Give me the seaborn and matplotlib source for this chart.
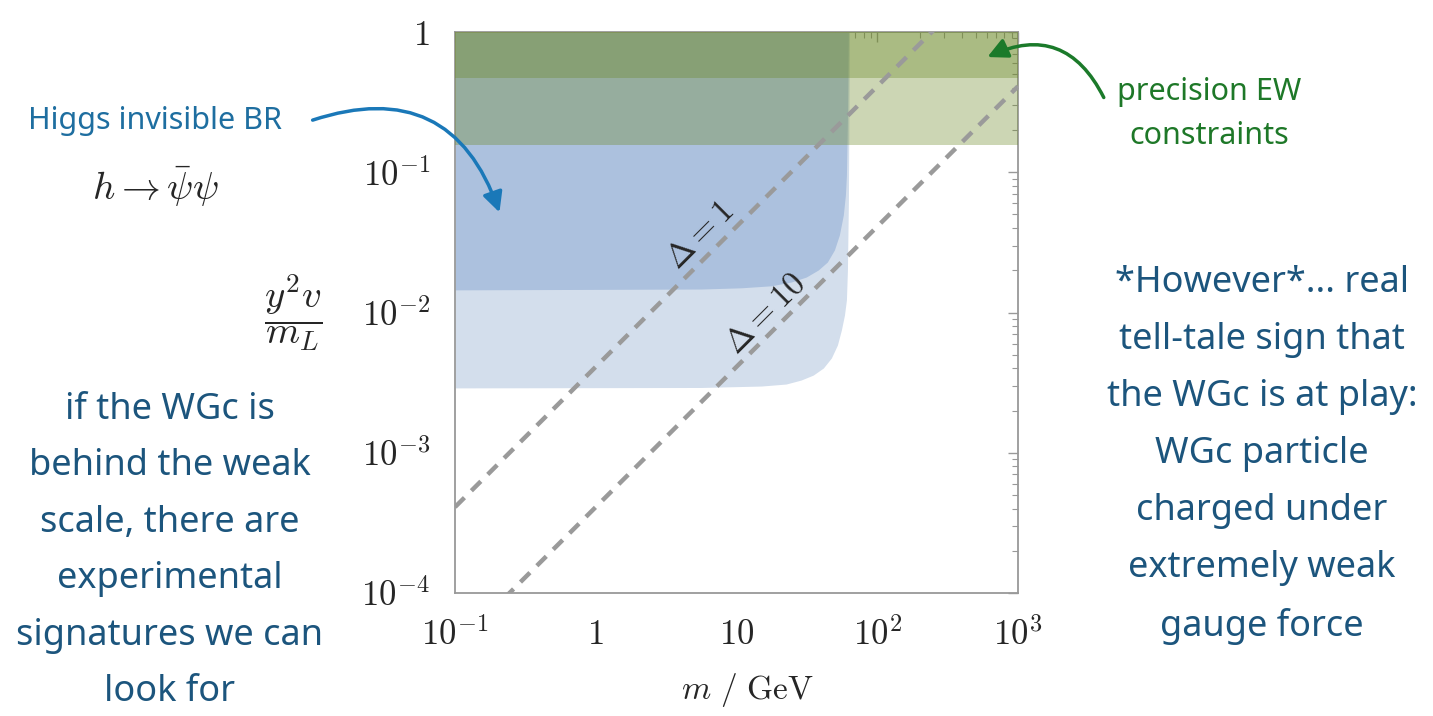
import numpy as np
import pandas as pd
import matplotlib.pyplot as plt
import seaborn as sns

# Higgs invisible BR bounds (boundary), m in GeV
mass_dark = [0.1, 5.6, 10.8, 17.6, 24.5, 31.3, 38.1, 44.2, 49.6, 53.8,
             57.4, 59.4, 60.4, 61.4, 62.4]
ylow_dark = [0.0145, 0.0147, 0.0150, 0.0155, 0.0165, 0.0179, 0.0201, 0.0229,
             0.0279, 0.0357, 0.0496, 0.0689, 0.0956, 0.236, 1.0]
mass_light = [0.1, 5.6, 15.0, 22.5, 28.8, 35.1, 41.4, 47.2, 52.1, 55.6,
              58.5, 60.4, 61.4, 62.4, 63.4]
ylow_light = [0.0029, 0.00292, 0.00299, 0.00309, 0.0033, 0.00358, 0.00402,
              0.00474, 0.00586, 0.0075, 0.0096, 0.0123, 0.0201, 0.0634, 1.0]

# precision EW bands (lower edges)
ew_range = [0.1, 1000]
ew_low = [0.156, 0.47]

# Delta = 1 and Delta = 10 lines
delta_mass = [0.1, 1000]
delta1_y = [4.1e-4, 4.1]
delta10_y = [4.1e-5, 0.41]

xticks = [0.1, 1, 10, 100, 1000]
xlabels = ['$10^{-1}$', '$1$', '$10$', '$10^{2}$', '$10^{3}$']
yticks = [1e-4, 1e-3, 1e-2, 1e-1, 1]
ylabels = ['$10^{-4}$', '$10^{-3}$', '$10^{-2}$', '$10^{-1}$', '$1$']

sns.set_theme(style='white')
plt.rcParams['mathtext.fontset'] = 'cm'
plt.rcParams['font.family'] = ['Noto Sans', 'DejaVu Sans']

fig = plt.figure(figsize=(14.33, 7.16), dpi=100)
ax = fig.add_axes([455 / 1433, 123 / 716, 563 / 1433, 561 / 716])
ax.set_xscale('log')
ax.set_yscale('log')

# Higgs invisible regions
ax.fill_between(mass_light, ylow_light, 1, color='#d3deec', lw=0, zorder=1)
ax.fill_between(mass_dark, ylow_dark, 1, color='#acc1de', lw=0, zorder=2)

# EW constraint bands
for low in ew_low:
    ax.fill_between(ew_range, low, 1, color='#6d8a29', alpha=0.35, lw=0, zorder=3)

# Delta lines
df = pd.DataFrame({'m': delta_mass * 2,
                   'y': delta1_y + delta10_y,
                   'delta': ['1'] * 2 + ['10'] * 2})
for d in ['1', '10']:
    sns.lineplot(data=df[df['delta'] == d], x='m', y='y', ax=ax, color='#9a9a9a',
                 lw=3.2, linestyle=(0, (3.0, 2.2)), zorder=4)

ax.text(5.58, 0.0351, r'$\Delta = 1$', rotation=45, ha='center', va='center',
        fontsize=24, zorder=5)
ax.text(15.96, 0.00976, r'$\Delta = 10$', rotation=45, ha='center', va='center',
        fontsize=24, zorder=5)

ax.set_xlim(0.1, 1000)
ax.set_ylim(1e-4, 1)
ax.set_xticks(xticks)
ax.set_xticklabels(xlabels)
ax.set_yticks(yticks)
ax.set_yticklabels(ylabels)
ax.tick_params(which='both', direction='in', top=True, right=True, color='#999999',
               labelsize=25, pad=18)
ax.tick_params(which='major', length=7, width=1)
ax.tick_params(which='minor', length=4, width=0.8)
for s in ax.spines.values():
    s.set_color('#999999')
    s.set_linewidth(1.3)

ax.set_xlabel(r'$m\ /\ \mathrm{GeV}$', fontsize=24, va='center')
ax.xaxis.set_label_coords(0.52, -0.173)
ax.set_ylabel(r'$\dfrac{y^2 v}{m_L}$', fontsize=28, rotation=0, ha='center', va='center')
ax.yaxis.set_label_coords(-0.288, 0.5)

# annotations
fig.text(155 / 1433, 1 - 121 / 716, 'Higgs invisible BR', color='#1e6ea0',
         fontsize=22, ha='center', va='center')
fig.text(155 / 1433, 1 - 187 / 716, r'$h \rightarrow \bar{\psi}\psi$', fontsize=28,
         ha='center', va='center')
ax.annotate('', xy=(0.21, 0.0496), xytext=(310 / 1433, 1 - 121 / 716),
            textcoords='figure fraction', annotation_clip=False,
            arrowprops=dict(arrowstyle='-|>', color='#1a78b8', lw=2.5,
                            mutation_scale=30, connectionstyle='arc3,rad=-0.5'))

fig.text(1209 / 1433, 1 - 114 / 716, 'precision EW\nconstraints', color='#1e7828',
         fontsize=22, ha='center', va='center', linespacing=1.6)
ax.annotate('', xy=(582, 0.65), xytext=(1105 / 1433, 1 - 100 / 716),
            textcoords='figure fraction', annotation_clip=False,
            arrowprops=dict(arrowstyle='-|>', color='#1b7a2a', lw=2.5,
                            mutation_scale=30, connectionstyle='arc3,rad=0.5'))

left_note = ('if the WGc is\nbehind the weak\nscale, there are\nexperimental\n'
             'signatures we can\nlook for')
fig.text(170 / 1433, 1 - 551 / 716, left_note, color='#1c557d', fontsize=26,
         ha='center', va='center', linespacing=1.76)

right_note = ('*However*... real\ntell-tale sign that\nthe WGc is at play:\n'
              'WGc particle\ncharged under\nextremely weak\ngauge force')
fig.text(1262 / 1433, 1 - 455 / 716, right_note, color='#1c557d', fontsize=26,
         ha='center', va='center', linespacing=1.78)

fig.savefig('out.png', dpi=100)
